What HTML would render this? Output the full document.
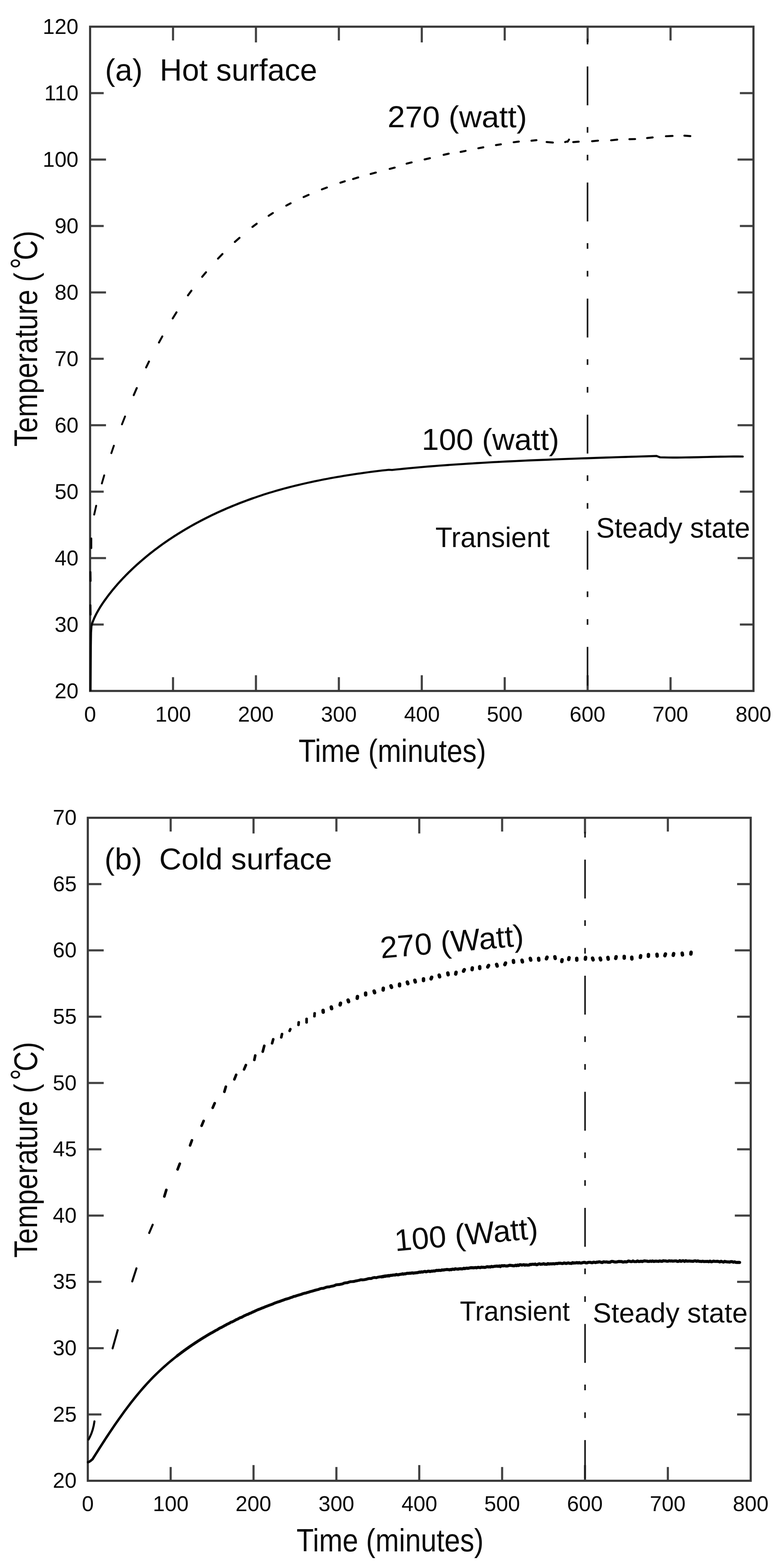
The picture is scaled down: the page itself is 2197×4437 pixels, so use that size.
<!DOCTYPE html>
<html lang="en"><head><meta charset="utf-8"><title>Figure</title>
<style>html,body{margin:0;padding:0;background:#fff}body{width:2197px;height:4437px}svg text{white-space:pre}svg{filter:blur(0.6px)}</style>
</head><body>
<svg width="2197" height="4437" viewBox="0 0 2197 4437" font-family='"Liberation Sans", sans-serif' style="display:block">
<rect width="2197" height="4437" fill="#fff"/>
<path d="M255.1 1767.23h38.5 M2133.2 1767.23h-38.5 M255.1 1579.26h45 M2133.2 1579.26h-45 M255.1 1391.29h38.5 M2133.2 1391.29h-38.5 M255.1 1203.32h45 M2133.2 1203.32h-45 M255.1 1015.35h38.5 M2133.2 1015.35h-38.5 M255.1 827.38h45 M2133.2 827.38h-45 M255.1 639.41h38.5 M2133.2 639.41h-38.5 M255.1 451.44h45 M2133.2 451.44h-45 M255.1 263.47h38.5 M2133.2 263.47h-38.5 M489.86 1955.2v-39 M489.86 75.5v39 M724.62 1955.2v-44.5 M724.62 75.5v44.5 M959.39 1955.2v-39 M959.39 75.5v39 M1194.15 1955.2v-44.5 M1194.15 75.5v44.5 M1428.91 1955.2v-39 M1428.91 75.5v39 M1663.67 1955.2v-44.5 M1663.67 75.5v44.5 M1898.44 1955.2v-39 M1898.44 75.5v39" fill="none" stroke="#424242" stroke-width="6.0"/>
<rect x="255.1" y="75.5" width="1878.10" height="1879.70" fill="none" stroke="#383838" stroke-width="6.0"/>
<text transform="translate(154.72 1976.10) scale(0.985 1)" font-size="61.6" fill="#0a0a0a">20</text>
<text transform="translate(154.72 1788.13) scale(0.985 1)" font-size="61.6" fill="#0a0a0a">30</text>
<text transform="translate(154.72 1600.16) scale(0.985 1)" font-size="61.6" fill="#0a0a0a">40</text>
<text transform="translate(154.72 1412.19) scale(0.985 1)" font-size="61.6" fill="#0a0a0a">50</text>
<text transform="translate(154.72 1224.22) scale(0.985 1)" font-size="61.6" fill="#0a0a0a">60</text>
<text transform="translate(154.72 1036.25) scale(0.985 1)" font-size="61.6" fill="#0a0a0a">70</text>
<text transform="translate(154.72 848.28) scale(0.985 1)" font-size="61.6" fill="#0a0a0a">80</text>
<text transform="translate(154.72 660.31) scale(0.985 1)" font-size="61.6" fill="#0a0a0a">90</text>
<text transform="translate(120.90 472.34) scale(0.985 1)" font-size="61.6" fill="#0a0a0a">100</text>
<text transform="translate(125.45 284.37) scale(0.985 1)" font-size="61.6" fill="#0a0a0a">110</text>
<text transform="translate(120.90 96.40) scale(0.985 1)" font-size="61.6" fill="#0a0a0a">120</text>
<text transform="translate(238.19 2041.80) scale(0.985 1)" font-size="61.6" fill="#0a0a0a">0</text>
<text transform="translate(439.44 2041.80) scale(0.985 1)" font-size="61.6" fill="#0a0a0a">100</text>
<text transform="translate(673.66 2041.80) scale(0.985 1)" font-size="61.6" fill="#0a0a0a">200</text>
<text transform="translate(908.80 2041.80) scale(0.985 1)" font-size="61.6" fill="#0a0a0a">300</text>
<text transform="translate(1144.02 2041.80) scale(0.985 1)" font-size="61.6" fill="#0a0a0a">400</text>
<text transform="translate(1378.25 2041.80) scale(0.985 1)" font-size="61.6" fill="#0a0a0a">500</text>
<text transform="translate(1612.71 2041.80) scale(0.985 1)" font-size="61.6" fill="#0a0a0a">600</text>
<text transform="translate(1847.39 2041.80) scale(0.985 1)" font-size="61.6" fill="#0a0a0a">700</text>
<text transform="translate(2082.46 2041.80) scale(0.985 1)" font-size="61.6" fill="#0a0a0a">800</text>
<path d="M1663.4 109.4V125.4 M1663.4 187.9V297.9 M1663.4 359.4V375.4 M1663.4 437.9V453.9 M1663.4 516.4V626.4 M1663.4 687.9V703.9 M1663.4 766.4V782.4 M1663.4 844.9V954.9 M1663.4 1016.4V1032.4 M1663.4 1094.9V1110.9 M1663.4 1173.4V1283.4 M1663.4 1344.9V1360.9 M1663.4 1423.4V1439.4 M1663.4 1501.9V1611.9 M1663.4 1673.4V1689.4 M1663.4 1751.9V1767.9 M1663.4 1830.4V1940.4" stroke="#1c1c1c" stroke-width="4.6" fill="none"/>
<path d="M256.3 1953.0 L256.6 1900.0 L257.0 1830.0 L257.6 1790.0 L258.8 1772.0 L261.0 1763.9 L261.9 1761.3 L262.9 1758.7 L263.9 1756.1 L265.0 1753.5 L266.1 1750.8 L267.3 1748.1 L268.6 1745.4 L269.9 1742.6 L271.3 1739.8 L272.8 1736.9 L274.3 1734.1 L275.9 1731.2 L277.6 1728.2 L279.3 1725.3 L281.1 1722.3 L282.9 1719.2 L284.8 1716.2 L286.8 1713.1 L288.8 1710.0 L290.9 1706.9 L293.1 1703.8 L295.3 1700.6 L297.6 1697.4 L300.0 1694.2 L302.4 1690.8 L304.8 1687.5 L307.4 1684.1 L310.0 1680.7 L312.7 1677.3 L315.4 1673.9 L318.2 1670.4 L321.0 1666.9 L324.0 1663.4 L326.9 1659.9 L330.0 1656.4 L333.1 1652.8 L336.3 1649.3 L339.5 1645.7 L342.8 1642.1 L346.2 1638.5 L349.6 1634.9 L353.1 1631.3 L356.6 1627.6 L360.3 1624.0 L363.9 1620.3 L367.7 1616.7 L371.5 1613.0 L375.4 1609.3 L379.3 1605.6 L383.3 1602.0 L387.3 1598.3 L391.5 1594.6 L395.6 1590.9 L399.9 1587.2 L404.2 1583.5 L408.6 1579.8 L413.0 1576.1 L417.5 1572.4 L422.1 1568.7 L426.7 1565.0 L431.4 1561.4 L436.2 1557.7 L441.0 1554.0 L445.9 1550.4 L450.8 1546.7 L455.8 1543.1 L460.9 1539.4 L466.0 1535.8 L471.2 1532.2 L476.5 1528.6 L481.8 1525.0 L487.2 1521.5 L492.6 1517.9 L498.2 1514.4 L503.7 1510.9 L509.4 1507.4 L515.1 1503.9 L520.8 1500.4 L526.7 1496.9 L532.6 1493.5 L538.5 1490.0 L544.5 1486.6 L550.6 1483.3 L556.8 1479.9 L563.0 1476.6 L569.3 1473.3 L575.6 1470.0 L582.0 1466.7 L588.5 1463.5 L595.0 1460.3 L601.6 1457.1 L608.2 1453.9 L614.9 1450.8 L621.7 1447.7 L628.6 1444.6 L635.5 1441.6 L642.4 1438.5 L649.5 1435.6 L656.6 1432.6 L663.7 1429.7 L670.9 1426.8 L678.2 1423.9 L685.6 1421.1 L693.0 1418.3 L700.5 1415.5 L708.0 1412.8 L715.6 1410.1" fill="none" stroke="#050505" stroke-width="6.1" stroke-linejoin="round" stroke-linecap="round"/>
<path d="M700.5 1415.5 L708.0 1412.8 L715.6 1410.1 L723.3 1407.4 L731.0 1404.8 L738.8 1402.2 L746.6 1399.6 L754.6 1397.1 L762.5 1394.6 L770.6 1392.2 L778.7 1389.8 L786.9 1387.4 L795.1 1385.1 L803.4 1382.8 L811.8 1380.6 L820.2 1378.4 L828.7 1376.3 L837.2 1374.1 L845.8 1372.1 L854.5 1370.0 L863.3 1368.0 L872.1 1366.0 L880.9 1364.1 L889.9 1362.2 L898.8 1360.3 L907.9 1358.5 L917.0 1356.7 L926.2 1355.0 L935.5 1353.2 L944.8 1351.5 L954.1 1349.9 L963.6 1348.3 L973.1 1346.7 L982.6 1345.1 L992.3 1343.6 L1001.9 1342.1 L1011.7 1340.7 L1021.5 1339.3 L1031.4 1337.9 L1041.3 1336.5 L1051.3 1335.2 L1061.4 1333.9 L1071.5 1332.7 L1081.7 1331.4 L1092.0 1330.3 L1101.0 1329.4 L1110.0 1329.9 L1120.7 1328.7 L1131.6 1327.6 L1142.4 1326.5 L1153.4 1325.4 L1164.4 1324.4 L1175.5 1323.3 L1186.6 1322.3 L1197.9 1321.4 L1209.1 1320.4 L1220.5 1319.5 L1231.9 1318.6 L1243.4 1317.7 L1255.0 1316.8 L1266.6 1316.0 L1278.3 1315.2 L1290.0 1314.4 L1301.8 1313.6 L1313.7 1312.8 L1325.7 1312.0 L1337.7 1311.3 L1349.8 1310.5 L1362.0 1309.8 L1374.2 1309.1 L1386.5 1308.4 L1398.8 1307.7 L1411.3 1307.1" fill="none" stroke="#050505" stroke-width="5.8" stroke-linejoin="round" stroke-linecap="round"/>
<path d="M1411.3 1307.1 L1423.8 1306.4 L1436.3 1305.8 L1448.9 1305.2 L1461.6 1304.6 L1474.4 1304.0 L1487.2 1303.4 L1500.1 1302.8 L1513.1 1302.3 L1526.1 1301.7 L1539.2 1301.2 L1552.4 1300.7 L1565.6 1300.1 L1578.9 1299.6 L1592.3 1299.1 L1605.7 1298.6 L1619.2 1298.1 L1632.8 1297.6 L1646.4 1297.1 L1660.1 1296.7 L1673.9 1296.2 L1687.7 1295.7 L1701.6 1295.3 L1715.6 1294.8 L1729.6 1294.4 L1743.7 1293.9 L1757.9 1293.4 L1772.2 1293.0 L1786.5 1292.5 L1800.8 1292.1 L1815.3 1291.6 L1829.8 1291.2 L1844.4 1290.7 L1859.0 1290.3 L1864.0 1292.4 L1869.0 1294.1 L1880.9 1294.4 L1892.9 1294.6 L1904.8 1294.7 L1916.9 1294.7 L1929.0 1294.6 L1941.1 1294.4 L1953.3 1294.2 L1965.5 1294.0 L1977.7 1293.7 L1990.0 1293.4 L2002.4 1293.1 L2014.8 1292.8 L2027.2 1292.5 L2039.7 1292.3 L2052.2 1292.1 L2064.7 1291.9 L2077.4 1291.8 L2090.0 1291.8 L2102.7 1291.9" fill="none" stroke="#050505" stroke-width="5.9" stroke-linejoin="round" stroke-linecap="round"/>
<path d="M256.4 1738.9L256.0 1713.0 M256.4 1643.8L256.0 1619.0 M258.3 1550.7L258.3 1523.9" fill="none" stroke="#050505" stroke-width="5.8" stroke-linecap="round"/>
<path d="M266.7 1456.1L272.3 1431.2 M288.4 1367.9L295.0 1345.2 M315.2 1282.3L322.4 1261.2 M345.3 1200.7L354.0 1178.6" fill="none" stroke="#050505" stroke-width="5.4" stroke-linecap="round"/>
<path d="M378.6 1118.2L387.2 1098.2 M413.7 1039.7L421.8 1023.0 M450.1 969.2L459.5 952.0 M489.0 901.0L499.7 883.8 M532.2 835.8L541.9 822.5 M572.5 783.2L583.2 770.4 M617.3 731.7L629.8 718.7 M665.0 684.5L678.0 673.0 M714.7 642.1L726.7 633.1 M760.6 610.6L772.5 602.9 M810.6 581.8L822.8 575.3 M859.6 557.6L873.7 551.4 M911.4 535.9L925.4 530.6 M963.7 517.0L976.1 513.0 M999.6 506.5L1014.2 502.1 M1049.3 492.3L1064.0 488.3 M1103.2 477.9L1117.4 474.3 M1151.2 463.0L1165.4 459.6 M1202.2 451.1L1217.2 447.6 M1256.0 438.1L1270.3 434.9 M1304.1 429.9L1318.2 427.0 M1354.3 419.5L1368.3 416.9 M1404.2 410.6L1418.0 408.4 M1454.3 402.5L1468.9 400.6 M1504.7 398.2L1518.8 396.7 M1547.6 401.8L1565.2 403.4 M1622.9 402.1L1638.4 400.8 M1676.3 399.6L1693.1 398.0 M1730.2 397.0L1747.5 395.1 M1782.1 393.9L1798.0 393.5 M1832.1 390.7L1847.8 388.9 M1885.4 385.5L1904.0 384.7 M1937.7 383.9L1954.4 385.1 M1600.0 402.0L1607.0 400.0 M1607.0 401.0L1611.0 395.0" fill="none" stroke="#050505" stroke-width="5.7" stroke-linecap="round"/>
<text transform="translate(297.15 227.80) scale(1.0093 1)" font-size="86.41" fill="#0a0a0a">(a)  Hot surface</text>
<text transform="translate(1097.26 359.70) scale(1.0379 1)" font-size="85.57" fill="#0a0a0a">270 (watt)</text>
<text transform="translate(1194.03 1272.70) scale(1.0230 1)" font-size="85.57" fill="#0a0a0a">100 (watt)</text>
<text transform="translate(1232.84 1548.00) scale(0.9770 1)" font-size="80.11" fill="#0a0a0a">Transient</text>
<text transform="translate(1687.77 1521.10) scale(0.9878 1)" font-size="79.41" fill="#0a0a0a">Steady state</text>
<text transform="translate(845.20 2156.00) scale(0.8813 1)" font-size="90.90" fill="#0a0a0a">Time (minutes)</text>
<text transform="translate(104.80 1261.90) rotate(-90) scale(0.8450 1)" font-size="93.60" fill="#0a0a0a"><tspan x="-2.11" y="0">Temperature (</tspan><tspan x="592.21" y="-7.14" font-size="95.86">°</tspan><tspan x="621.95" y="0">C)</tspan></text>
<path d="M248.6 4002.59h38.5 M2125.4 4002.59h-38.5 M248.6 3814.98h45 M2125.4 3814.98h-45 M248.6 3627.37h38.5 M2125.4 3627.37h-38.5 M248.6 3439.76h45 M2125.4 3439.76h-45 M248.6 3252.15h38.5 M2125.4 3252.15h-38.5 M248.6 3064.54h45 M2125.4 3064.54h-45 M248.6 2876.93h38.5 M2125.4 2876.93h-38.5 M248.6 2689.32h45 M2125.4 2689.32h-45 M248.6 2501.71h38.5 M2125.4 2501.71h-38.5 M483.20 4190.2v-39 M483.20 2314.1v39 M717.80 4190.2v-44.5 M717.80 2314.1v44.5 M952.40 4190.2v-39 M952.40 2314.1v39 M1187.00 4190.2v-44.5 M1187.00 2314.1v44.5 M1421.60 4190.2v-39 M1421.60 2314.1v39 M1656.20 4190.2v-44.5 M1656.20 2314.1v44.5 M1890.80 4190.2v-39 M1890.80 2314.1v39" fill="none" stroke="#424242" stroke-width="6.0"/>
<rect x="248.6" y="2314.1" width="1876.80" height="1876.10" fill="none" stroke="#383838" stroke-width="6.0"/>
<text transform="translate(149.52 4210.20) scale(0.985 1)" font-size="61.6" fill="#0a0a0a">20</text>
<text transform="translate(149.68 4022.59) scale(0.985 1)" font-size="61.6" fill="#0a0a0a">25</text>
<text transform="translate(149.52 3834.98) scale(0.985 1)" font-size="61.6" fill="#0a0a0a">30</text>
<text transform="translate(149.68 3647.37) scale(0.985 1)" font-size="61.6" fill="#0a0a0a">35</text>
<text transform="translate(149.52 3459.76) scale(0.985 1)" font-size="61.6" fill="#0a0a0a">40</text>
<text transform="translate(149.68 3272.15) scale(0.985 1)" font-size="61.6" fill="#0a0a0a">45</text>
<text transform="translate(149.52 3084.54) scale(0.985 1)" font-size="61.6" fill="#0a0a0a">50</text>
<text transform="translate(149.68 2896.93) scale(0.985 1)" font-size="61.6" fill="#0a0a0a">55</text>
<text transform="translate(149.52 2709.32) scale(0.985 1)" font-size="61.6" fill="#0a0a0a">60</text>
<text transform="translate(149.68 2521.71) scale(0.985 1)" font-size="61.6" fill="#0a0a0a">65</text>
<text transform="translate(149.52 2334.10) scale(0.985 1)" font-size="61.6" fill="#0a0a0a">70</text>
<text transform="translate(231.69 4276.20) scale(0.985 1)" font-size="61.6" fill="#0a0a0a">0</text>
<text transform="translate(432.77 4276.20) scale(0.985 1)" font-size="61.6" fill="#0a0a0a">100</text>
<text transform="translate(666.83 4276.20) scale(0.985 1)" font-size="61.6" fill="#0a0a0a">200</text>
<text transform="translate(901.81 4276.20) scale(0.985 1)" font-size="61.6" fill="#0a0a0a">300</text>
<text transform="translate(1136.87 4276.20) scale(0.985 1)" font-size="61.6" fill="#0a0a0a">400</text>
<text transform="translate(1370.94 4276.20) scale(0.985 1)" font-size="61.6" fill="#0a0a0a">500</text>
<text transform="translate(1605.23 4276.20) scale(0.985 1)" font-size="61.6" fill="#0a0a0a">600</text>
<text transform="translate(1839.76 4276.20) scale(0.985 1)" font-size="61.6" fill="#0a0a0a">700</text>
<text transform="translate(2074.66 4276.20) scale(0.985 1)" font-size="61.6" fill="#0a0a0a">800</text>
<path d="M1656.4 2353.9V2369.9 M1656.4 2432.4V2542.4 M1656.4 2603.9V2619.9 M1656.4 2682.4V2698.4 M1656.4 2760.9V2870.9 M1656.4 2932.4V2948.4 M1656.4 3010.9V3026.9 M1656.4 3089.4V3199.4 M1656.4 3260.9V3276.9 M1656.4 3339.4V3355.4 M1656.4 3417.9V3527.9 M1656.4 3589.4V3605.4 M1656.4 3667.9V3683.9 M1656.4 3746.4V3856.4 M1656.4 3917.9V3933.9 M1656.4 3996.4V4012.4 M1656.4 4074.9V4184.9" stroke="#1c1c1c" stroke-width="4.6" fill="none"/>
<path d="M249.2 4137.6 L252.5 4136.4 L256.0 4134.2 L259.0 4131.6 L262.0 4129.1 L265.1 4124.1 L268.3 4119.1 L271.5 4114.0 L274.8 4108.9 L278.1 4103.7 L281.4 4098.4 L284.8 4093.1 L288.2 4087.8 L291.7 4082.4 L295.2 4077.0 L298.7 4071.5 L302.3 4066.0 L306.0 4060.5 L309.7 4054.9 L313.4 4049.3 L317.2 4043.7 L321.0 4038.1 L324.8 4032.5 L328.7 4026.9 L332.7 4021.2 L336.7 4015.6 L340.7 4009.9 L344.8 4004.2 L348.9 3998.5 L353.0 3992.8 L357.2 3987.2 L361.5 3981.5 L365.8 3975.9 L370.1 3970.2 L374.5 3964.6 L378.9 3959.1 L383.4 3953.5 L387.9 3948.0 L392.4 3942.6 L397.0 3937.1 L401.6 3931.7 L406.3 3926.4 L411.0 3921.1 L415.8 3915.8 L420.6 3910.6 L425.4 3905.5 L430.3 3900.4 L435.2 3895.4 L440.2 3890.5 L445.2 3885.6 L450.3 3880.8 L455.4 3876.0 L460.5 3871.3 L465.7 3866.6 L471.0 3862.0 L476.2 3857.4 L481.6 3852.9 L486.9 3848.5 L492.3 3844.1 L497.8 3839.7 L503.3 3835.4 L508.8 3831.2 L514.4 3827.0 L520.0 3822.8" fill="none" stroke="#050505" stroke-width="6.9" stroke-linejoin="round" stroke-linecap="round"/>
<path d="M500.0 3838.0 L503.0 3835.6 L506.1 3833.3 L509.2 3830.9 L512.3 3828.6 L515.4 3826.2 L518.5 3823.9 L521.6 3821.6 L524.8 3819.4 L527.9 3817.1 L531.1 3814.9 L534.3 3812.6 L537.5 3810.4 L540.7 3808.2 L543.9 3806.0 L547.1 3803.8 L550.4 3801.6 L553.6 3799.5 L556.9 3797.3 L560.2 3795.2 L563.5 3793.1 L566.8 3791.0 L570.1 3788.9 L573.5 3786.8 L576.8 3784.7 L580.2 3782.7 L583.6 3780.6 L587.0 3778.6 L590.4 3776.6 L593.8 3774.5 L597.2 3772.5 L600.7 3770.8 L604.1 3768.9 L607.6 3766.7 L611.1 3764.6 L614.6 3763.1 L618.1 3760.8 L621.6 3758.5 L625.1 3757.0 L628.7 3755.3 L632.3 3753.3 L635.8 3751.2 L639.4 3749.5 L643.0 3747.2 L646.6 3745.7 L650.3 3743.8 L653.9 3741.4 L657.6 3740.5 L661.2 3738.5 L664.9 3736.6 L668.6 3734.3 L672.3 3733.0 L676.1 3730.8 L679.8 3728.7 L683.5 3727.8 L687.3 3725.8 L691.1 3723.6 L694.9 3722.0 L698.7 3720.0 L702.5 3719.0 L706.3 3716.7 L710.2 3715.6 L714.0 3713.4 L717.9 3711.9 L721.8 3710.0 L725.7 3708.1 L729.6 3706.4 L733.5 3704.9 L737.4 3703.5 L741.4 3701.6 L745.3 3700.4 L749.3 3698.6 L753.3 3697.0 L757.3 3695.5 L761.3 3693.9 L765.3 3692.5 L769.4 3691.1 L773.4 3689.5 L777.5 3687.4 L781.6 3686.1 L785.7 3684.5 L789.8 3683.4 L793.9 3681.9 L798.0 3680.3 L802.2 3678.9 L806.3 3677.2 L810.5 3676.0 L814.7 3674.8 L818.9 3673.6 L823.1 3671.8 L827.3 3670.7 L831.6 3668.6 L835.8 3667.9 L840.1 3666.4 L844.4 3665.0 L848.6 3663.9 L852.9 3662.6 L857.3 3660.9 L861.6 3659.6 L865.9 3658.9 L870.3 3657.4 L874.7 3656.3 L879.1 3654.6 L883.4 3653.7 L887.9 3652.3 L892.3 3651.0 L896.7 3649.9 L901.2 3648.9 L905.6 3647.1 L910.1 3645.8 L914.6 3645.7 L919.1 3644.3 L923.6 3642.5 L928.1 3641.6 L932.7 3641.4 L937.2 3640.0 L941.8 3639.2 L946.4 3638.1 L951.0 3635.8 L955.6 3635.3 L960.2 3634.9 L964.9 3634.0 L969.5 3633.1 L974.2 3630.8 L978.8 3630.0 L983.5 3629.6 L988.2 3627.9 L992.9 3626.7 L997.7 3626.5 L1002.4 3626.1 L1007.2 3624.7 L1011.9 3623.9 L1016.7 3622.9 L1021.5 3621.3 L1026.3 3621.6 L1031.1 3621.2 L1036.0 3620.3 L1040.8 3618.8 L1045.7 3617.8 L1050.5 3617.9 L1055.4 3615.9 L1060.3 3614.9 L1065.2 3615.6 L1070.2 3614.0 L1075.1 3613.2 L1080.1 3612.5 L1085.0 3611.5 L1090.0 3612.2 L1095.0 3610.8 L1100.0 3610.9" fill="none" stroke="#050505" stroke-width="8.1" stroke-linejoin="round" stroke-linecap="butt"/>
<path d="M1080.0 3613.3 L1082.4 3613.0 L1084.9 3612.8 L1087.4 3611.4 L1089.8 3610.8 L1092.3 3610.5 L1094.7 3610.4 L1097.2 3610.2 L1099.7 3609.4 L1102.1 3610.6 L1104.6 3609.0 L1107.1 3608.8 L1109.6 3608.9 L1112.1 3608.1 L1114.6 3608.0 L1117.1 3607.9 L1119.5 3607.8 L1122.0 3606.4 L1124.5 3607.1 L1127.1 3607.5 L1129.6 3606.7 L1132.1 3606.2 L1134.6 3605.8 L1137.1 3605.5 L1139.6 3604.4 L1142.2 3605.5 L1144.7 3604.6 L1147.2 3604.7 L1149.7 3604.0 L1152.3 3603.1 L1154.8 3603.1 L1157.4 3603.2 L1159.9 3602.7 L1162.5 3602.9 L1165.0 3602.3 L1167.6 3601.9 L1170.1 3602.7 L1172.7 3602.1 L1175.3 3602.0 L1177.8 3601.5 L1180.4 3601.4 L1183.0 3601.0 L1185.6 3600.2 L1188.1 3599.5 L1190.7 3600.1 L1193.3 3598.9 L1195.9 3599.6 L1198.5 3599.0 L1201.1 3598.0 L1203.7 3597.8 L1206.3 3598.9 L1208.9 3598.2 L1211.5 3597.4 L1214.2 3597.0 L1216.8 3598.1 L1219.4 3597.7 L1222.0 3596.8 L1224.6 3597.1 L1227.3 3596.3 L1229.9 3596.7 L1232.5 3596.1 L1235.2 3594.8 L1237.8 3594.9 L1240.5 3595.2 L1243.1 3594.4 L1245.8 3595.0 L1248.4 3594.8 L1251.1 3593.5 L1253.8 3593.9 L1256.4 3593.7 L1259.1 3593.0 L1261.8 3592.7 L1264.4 3592.3 L1267.1 3592.4 L1269.8 3592.7 L1272.5 3593.3 L1275.2 3592.3 L1277.9 3592.9 L1280.6 3591.3 L1283.3 3591.6 L1286.0 3592.2 L1288.7 3590.4 L1291.4 3590.9 L1294.1 3591.0 L1296.8 3591.4 L1299.5 3590.5 L1302.2 3590.2 L1305.0 3590.4 L1307.7 3590.7 L1310.4 3590.2 L1313.2 3588.8 L1315.9 3589.9 L1318.6 3589.1 L1321.4 3588.5 L1324.1 3589.1 L1326.9 3588.6 L1329.6 3587.9 L1332.4 3587.3 L1335.1 3587.2 L1337.9 3587.4 L1340.7 3587.6 L1343.4 3587.2 L1346.2 3586.8 L1349.0 3587.6 L1351.8 3586.6 L1354.6 3586.2 L1357.3 3586.7 L1360.1 3587.1 L1362.9 3585.7 L1365.7 3586.2 L1368.5 3586.0 L1371.3 3586.4 L1374.1 3586.3 L1376.9 3585.2 L1379.7 3584.3 L1382.6 3585.2 L1385.4 3584.6 L1388.2 3585.4 L1391.0 3583.5 L1393.8 3584.4 L1396.7 3584.1 L1399.5 3583.4 L1402.3 3583.1 L1405.2 3582.9 L1408.0 3582.7 L1410.9 3583.4 L1413.7 3582.1 L1416.6 3584.2 L1419.4 3581.9 L1422.3 3581.6 L1425.2 3582.1 L1428.0 3581.3 L1430.9 3582.2 L1433.8 3582.3 L1436.6 3582.3 L1439.5 3581.6 L1442.4 3580.4 L1445.3 3580.6 L1448.2 3581.0 L1451.1 3581.4 L1454.0 3581.9 L1456.9 3581.7 L1459.8 3580.2 L1462.7 3581.5 L1465.6 3579.6 L1468.5 3581.1 L1471.4 3578.8 L1474.3 3578.9 L1477.2 3579.8 L1480.2 3579.4 L1483.1 3578.6 L1486.0 3580.1 L1488.9 3579.2 L1491.9 3579.6 L1494.8 3579.8 L1497.8 3579.7 L1500.7 3577.9 L1503.7 3578.4 L1506.6 3577.5 L1509.6 3577.5 L1512.5 3578.0 L1515.5 3576.9 L1518.5 3578.8 L1521.4 3578.5 L1524.4 3576.7 L1527.4 3576.3 L1530.3 3577.6 L1533.3 3577.2 L1536.3 3577.1 L1539.3 3575.8 L1542.3 3577.5 L1545.3 3577.2 L1548.3 3577.7 L1551.3 3575.6 L1554.3 3576.9 L1557.3 3576.3 L1560.3 3576.4 L1563.3 3576.4 L1566.3 3575.8 L1569.4 3576.6 L1572.4 3575.8 L1575.4 3575.3 L1578.4 3575.6 L1581.5 3574.5 L1584.5 3574.6 L1587.5 3574.6 L1590.6 3575.4 L1593.6 3575.5 L1596.7 3573.9 L1599.7 3574.4 L1602.8 3575.3 L1605.8 3574.5 L1608.9 3573.7 L1612.0 3574.7 L1615.0 3574.9 L1618.1 3575.2 L1621.2 3572.8 L1624.3 3574.2 L1627.3 3573.5 L1630.4 3573.8 L1633.5 3572.6 L1636.6 3574.0 L1639.7 3572.6 L1642.8 3574.0 L1645.9 3574.0 L1649.0 3573.1 L1652.1 3572.3 L1655.2 3572.0 L1658.3 3573.5 L1661.5 3573.7 L1664.6 3572.4 L1667.7 3572.0 L1670.8 3572.0 L1674.0 3572.9 L1677.1 3573.2 L1680.2 3571.6 L1683.4 3572.1 L1686.5 3572.8 L1689.6 3571.3 L1692.8 3571.6 L1695.9 3570.5 L1699.1 3571.1 L1702.3 3572.1 L1705.4 3572.6 L1708.6 3570.5 L1711.8 3570.9 L1714.9 3571.2 L1718.1 3570.8 L1721.3 3571.9 L1724.5 3571.7 L1727.6 3571.8 L1730.8 3569.5 L1734.0 3569.5 L1737.2 3570.3 L1740.4 3571.1 L1743.6 3571.1 L1746.8 3570.9 L1750.0 3569.9 L1753.2 3569.6 L1756.4 3569.8 L1759.7 3569.8 L1762.9 3571.1 L1766.1 3571.1 L1769.3 3570.1 L1772.6 3571.0 L1775.8 3570.3 L1779.0 3568.4 L1782.3 3569.0 L1785.5 3569.9 L1788.8 3570.0 L1792.0 3568.2 L1795.3 3569.8 L1798.5 3570.0 L1801.8 3569.9 L1805.0 3568.1 L1808.3 3569.8 L1811.6 3569.7 L1814.8 3568.9 L1818.1 3569.9 L1821.4 3568.7 L1824.7 3567.9 L1827.9 3568.3 L1831.2 3568.5 L1834.5 3569.5 L1837.8 3569.5 L1841.1 3568.5 L1844.4 3569.4 L1847.7 3568.1 L1851.0 3569.7 L1854.3 3568.8 L1857.6 3568.7 L1861.0 3569.0 L1864.3 3569.4 L1867.6 3568.1 L1870.9 3568.9 L1874.3 3569.3 L1877.6 3567.6 L1880.9 3568.0 L1884.3 3568.0 L1887.6 3568.9 L1891.0 3569.0 L1894.3 3567.7 L1897.7 3568.3 L1901.0 3568.0 L1904.4 3568.6 L1907.7 3568.5 L1911.1 3568.0 L1914.5 3568.0 L1917.8 3569.5 L1921.2 3569.2 L1924.6 3567.2 L1928.0 3569.3 L1931.3 3567.9 L1934.7 3567.7 L1938.1 3569.5 L1941.5 3567.3 L1944.9 3568.7 L1948.3 3568.6 L1951.7 3568.2 L1955.1 3568.6 L1958.5 3568.9 L1961.9 3569.3 L1965.4 3568.0 L1968.8 3567.8 L1972.2 3569.1 L1975.6 3568.0 L1979.1 3569.1 L1982.5 3569.3 L1985.9 3569.8 L1989.4 3568.9 L1992.8 3569.8 L1996.2 3569.7 L1999.7 3569.6 L2003.1 3569.4 L2006.6 3570.4 L2010.1 3568.6 L2013.5 3570.4 L2017.0 3569.9 L2020.4 3568.7 L2023.9 3569.5 L2027.4 3569.5 L2030.9 3569.1 L2034.3 3569.7 L2037.8 3570.9 L2041.3 3569.0 L2044.8 3570.4 L2048.3 3571.4 L2051.8 3569.3 L2055.3 3570.4 L2058.8 3570.8 L2062.3 3570.9 L2065.8 3571.4 L2069.3 3570.0 L2072.8 3570.1 L2076.4 3571.7 L2079.9 3570.6 L2083.4 3572.2 L2086.9 3572.4 L2090.5 3572.2 L2094.0 3572.3" fill="none" stroke="#050505" stroke-width="8.7" stroke-linejoin="round" stroke-linecap="round"/>
<path d="M318.8 3815.5L333.2 3764.0 M374.4 3626.0L386.3 3589.1 M422.4 3489.0L432.3 3465.6 M250.6 4073.5Q263.5 4051 267.4 4022" fill="none" stroke="#050505" stroke-width="5.8" stroke-linecap="round"/>
<path d="M465.3 3385.6L470.9 3367.1 M502.8 3309.1L509.0 3292.9 M538.2 3241.1L543.3 3226.9 M570.8 3185.6L576.5 3171.9 M602.2 3134.7L607.8 3121.8 M635.3 3089.4L639.4 3075.0 M663.6 3054.2L668.6 3041.5 M691.0 3026.1L696.1 3014.0 M720.1 2999.2L722.6 2986.9 M743.9 2975.8L748.2 2959.4 M770.4 2952.2L773.5 2940.9 M796.4 2935.3L798.4 2926.2 M820.0 2917.0L821.9 2912.3 M845.1 2899.9L845.7 2892.9 M868.0 2893.1L868.0 2883.2 M890.2 2875.6L890.8 2867.5" fill="none" stroke="#050505" stroke-width="7.5" stroke-linecap="round"/>
<path d="M915.1 2864.1L914.7 2859.1 M939.0 2854.2L937.8 2849.4 M963.0 2843.6L964.0 2838.8 M987.0 2834.6L985.4 2829.8 M1011.4 2824.9L1012.0 2819.9 M1035.3 2815.1L1035.1 2810.1 M1060.7 2809.1L1059.1 2804.3 M1084.8 2801.4L1085.2 2796.4 M1108.6 2794.1L1106.8 2789.5 M1131.2 2789.6L1131.2 2784.6 M1154.7 2783.7L1153.1 2778.9 M1175.8 2778.6L1174.4 2773.8 M1199.0 2774.8L1199.0 2769.8 M1220.4 2769.9L1222.2 2765.3 M1244.7 2764.1L1243.3 2759.3 M1268.8 2758.3L1267.8 2753.3 M1290.2 2756.3L1291.2 2751.3 M1312.3 2748.2L1314.5 2743.8 M1336.6 2743.8L1337.2 2738.8 M1358.3 2740.5L1358.1 2735.5 M1380.9 2736.3L1383.3 2731.9 M1407.6 2733.7L1406.0 2728.9 M1429.3 2729.7L1431.3 2725.1 M1454.1 2723.2L1453.5 2718.2 M1479.1 2721.9L1477.9 2717.1 M1502.7 2716.8L1501.3 2712.0 M1525.5 2716.9L1524.9 2711.9 M1547.0 2713.2L1548.8 2708.6 M1571.9 2712.1L1570.9 2707.3 M1590.6 2720.8L1591.4 2715.8 M1610.1 2715.0L1611.1 2710.0 M1633.0 2716.9L1632.8 2711.9 M1657.3 2714.2L1657.9 2709.2 M1679.2 2716.0L1677.6 2711.2 M1700.7 2716.0L1699.1 2711.2 M1722.0 2714.2L1721.0 2709.2 M1743.2 2712.1L1744.4 2707.3 M1767.3 2711.3L1767.3 2706.3 M1789.0 2713.6L1788.6 2708.6 M1813.0 2709.4L1813.8 2704.4 M1835.7 2706.1L1835.9 2701.1 M1860.6 2705.3L1860.0 2700.3 M1882.4 2704.3L1884.0 2699.5 M1906.1 2703.3L1907.3 2698.5 M1932.2 2702.2L1931.4 2697.2 M1956.0 2699.7L1956.6 2694.7" fill="none" stroke="#050505" stroke-width="9.8" stroke-linecap="round"/>
<text transform="translate(295.85 2459.70) scale(1.0139 1)" font-size="85.99" fill="#0a0a0a">(b)  Cold surface</text>
<text transform="translate(1079.00 2712.00) rotate(-5.05) scale(1.0180 1)" font-size="86.46" fill="#0a0a0a">270 (Watt)</text>
<text transform="translate(1119.50 3540.60) rotate(-5.1) scale(1.0180 1)" font-size="86.46" fill="#0a0a0a">100 (Watt)</text>
<text transform="translate(1302.00 3737.30) scale(0.9784 1)" font-size="77.03" fill="#0a0a0a">Transient</text>
<text transform="translate(1678.25 3742.30) scale(1.0243 1)" font-size="77.03" fill="#0a0a0a">Steady state</text>
<text transform="translate(839.60 4390.20) scale(0.8815 1)" font-size="90.62" fill="#0a0a0a">Time (minutes)</text>
<text transform="translate(104.80 3557.30) rotate(-90) scale(0.8450 1)" font-size="93.60" fill="#0a0a0a"><tspan x="-2.11" y="0">Temperature (</tspan><tspan x="592.21" y="-7.14" font-size="95.86">°</tspan><tspan x="621.95" y="0">C)</tspan></text>
</svg>
</body></html>
